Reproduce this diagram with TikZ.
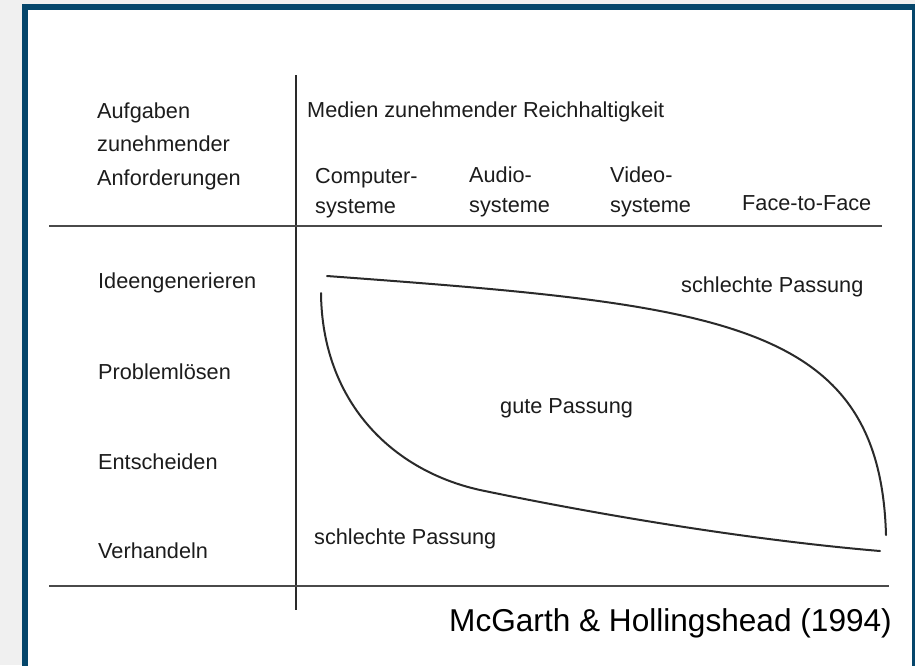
\documentclass[tikz,border=0pt]{standalone}
\usepackage{fontspec}
\setmainfont{Liberation Sans}
\definecolor{frameblue}{HTML}{05466B}
\definecolor{bggray}{HTML}{F0F0F0}
\definecolor{txt}{HTML}{1C1C1C}
\definecolor{rule}{HTML}{4A4A4A}
\definecolor{curve}{HTML}{2A2A2A}
\begin{document}
\begin{tikzpicture}[x=1pt,y=-1pt,
  lbl/.style={anchor=base west, inner sep=0pt, text=txt, font=\fontsize{21.7}{26}\selectfont},
  hrule/.style={draw=rule, line width=2.2pt},
  vrule/.style={draw=curve, line width=1.8pt},
  fitcurve/.style={draw=curve, line width=2pt, line cap=round}]
\useasboundingbox (0,0) rectangle (915,665);
\clip (0,0) rectangle (915,665);
\fill[bggray] (0,0) rectangle (915,665);
\draw[frameblue, line width=6pt, fill=white] (25,7) rectangle (915,670);

% rules
\draw[vrule] (296,75) -- (296,610);
\draw[hrule] (49,226) -- (882,226);
\draw[hrule] (49,586) -- (889,586);

% header texts
\node[lbl] (aufg) at (97,118) {Aufgaben};
\node[lbl] (zun) at (97,151) {zunehmender};
\node[lbl] (anf) at (97,185) {Anforderungen};
\node[lbl] (medien) at (307,117) {Medien zunehmender Reichhaltigkeit};
\node[lbl] (comp1) at (315,183) {Computer-};
\node[lbl] (comp2) at (315,213) {systeme};
\node[lbl] (aud1) at (469,182) {Audio-};
\node[lbl] (aud2) at (469,212) {systeme};
\node[lbl] (vid1) at (610,182) {Video-};
\node[lbl] (vid2) at (610,212) {systeme};
\node[lbl] (f2f) at (742,210) {Face-to-Face};

% row labels
\node[lbl] (idee) at (98,288) {Ideengenerieren};
\node[lbl] (prob) at (98,379) {Problemlösen};
\node[lbl] (ents) at (98,469) {Entscheiden};
\node[lbl] (verh) at (98,558) {Verhandeln};

% region labels
\node[lbl] (sp1) at (681,292) {schlechte Passung};
\node[lbl] (gute) at (500,413) {gute Passung};
\node[lbl] (sp2) at (314,544) {schlechte Passung};

% curves
\draw[fitcurve] (327,276) .. controls (720,305) and (880,320) .. (886,535);
\draw[fitcurve] (321,293) .. controls (322,400) and (390,470) .. (480,490)
  .. controls (600,515) and (750,540) .. (880,551);

% citation
\node[anchor=base west, inner sep=0pt, text=black, font=\fontsize{31.6}{38}\selectfont] (cite) at (449,631) {McGarth \& Hollingshead (1994)};
\end{tikzpicture}
\end{document}
